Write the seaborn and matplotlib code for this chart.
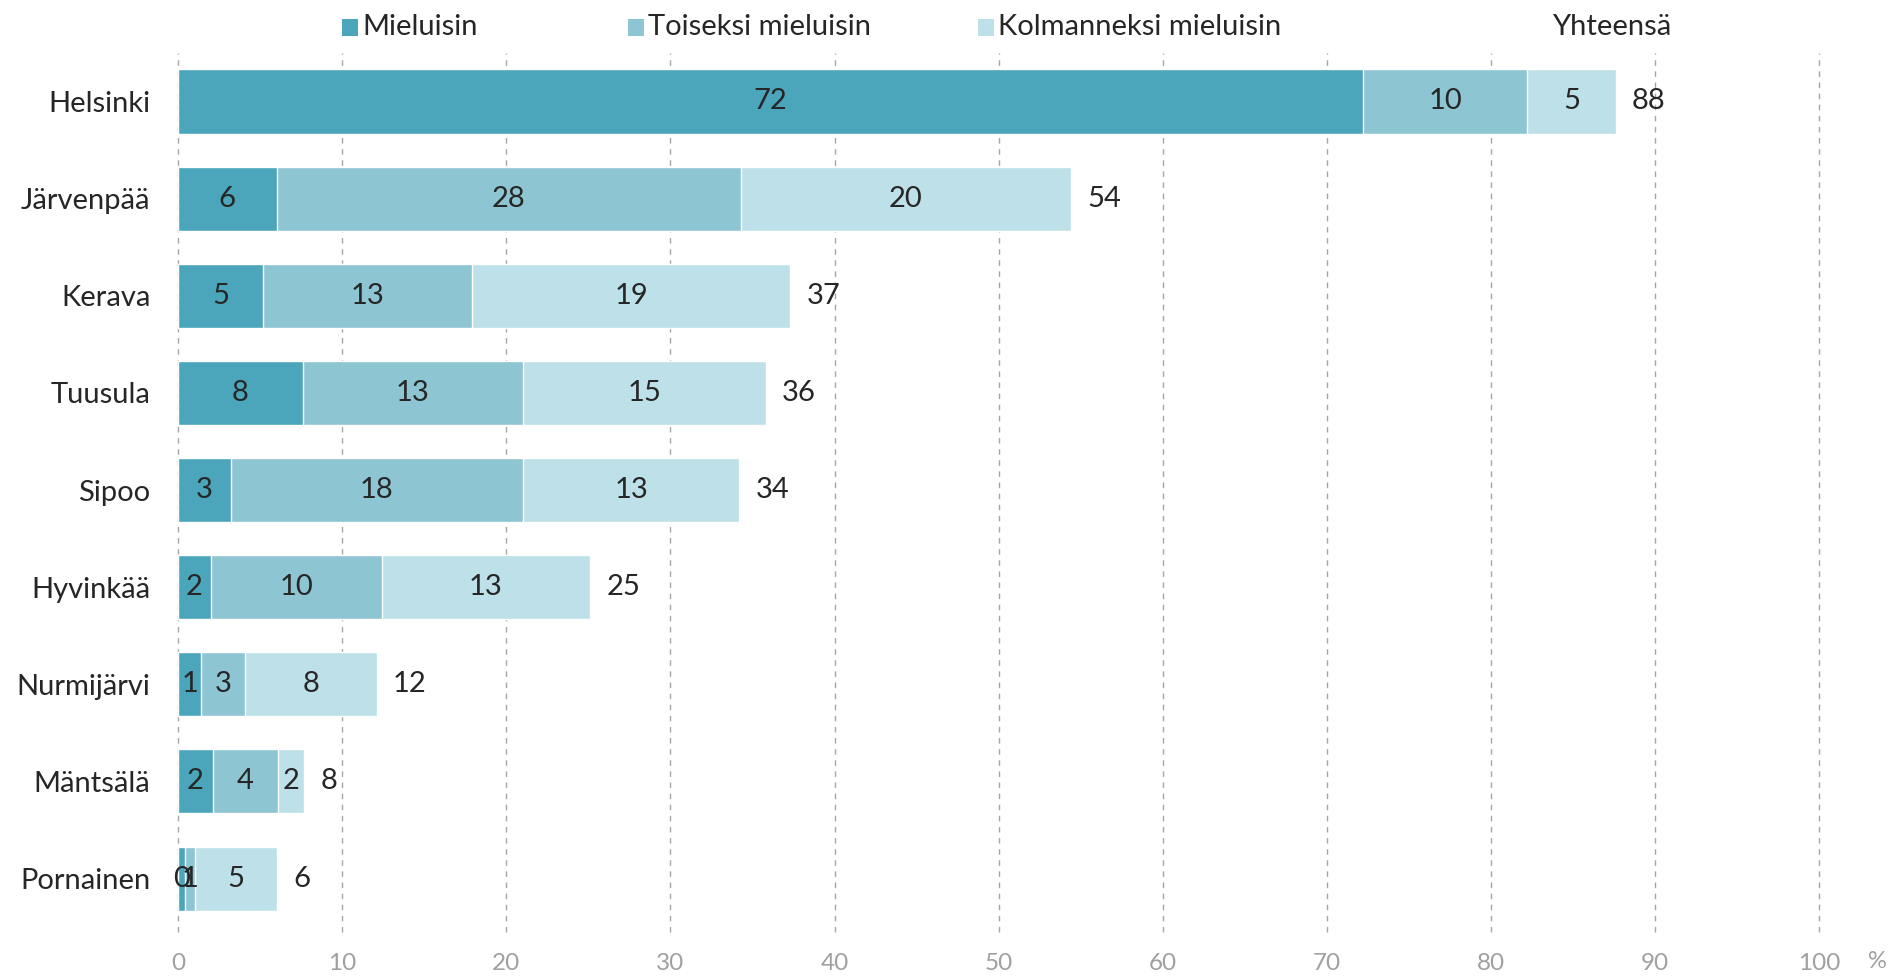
import numpy as np
import pandas as pd
import matplotlib
matplotlib.use("Agg")
import matplotlib.pyplot as plt
import seaborn as sns
from matplotlib.patches import Rectangle

# Data (%)
kunnat = ["Helsinki", "Järvenpää", "Kerava", "Tuusula", "Sipoo",
          "Hyvinkää", "Nurmijärvi", "Mäntsälä", "Pornainen"]
mieluisin = [72.2, 6.0, 5.2, 7.6, 3.2, 2.0, 1.4, 2.1, 0.4]
toiseksi = [10.0, 28.3, 12.7, 13.4, 17.8, 10.4, 2.7, 4.0, 0.6]
kolmanneksi = [5.4, 20.1, 19.4, 14.8, 13.2, 12.7, 8.0, 1.6, 5.0]
sarjat = ["Mieluisin", "Toiseksi mieluisin", "Kolmanneksi mieluisin"]
varit = ["#4BA5BB", "#8EC5D3", "#BDE0E9"]
xticks = list(range(0, 101, 10))

df = pd.DataFrame({"Kunta": kunnat, "Mieluisin": mieluisin,
                   "Toiseksi mieluisin": toiseksi,
                   "Kolmanneksi mieluisin": kolmanneksi})
df["c1"] = df["Mieluisin"]
df["c2"] = df["c1"] + df["Toiseksi mieluisin"]
df["c3"] = df["c2"] + df["Kolmanneksi mieluisin"]

sns.set_style("white")
plt.rcParams["font.family"] = ["Lato", "DejaVu Sans"]

fig = plt.figure(figsize=(18.95, 9.8), dpi=100)
ax = fig.add_axes([0.094, 0.049, 0.866, 0.897])

# pinotut palkit: kumulatiiviset summat, pisin ensin
for col, vari in zip(["c3", "c2", "c1"], varit[::-1]):
    sns.barplot(data=df, x=col, y="Kunta", orient="h", color=vari,
                width=0.66, edgecolor="white", linewidth=1, ax=ax,
                saturation=1, zorder=3)

# arvot palkkien sisään ja yhteensä-arvo perään
for i, row in df.iterrows():
    alku = 0
    for s in sarjat:
        v = row[s]
        ax.text(alku + v / 2, i, f"{v:.0f}", ha="center", va="center",
                fontsize=21, color="#262626", zorder=5)
        alku += v
    ax.text(row["c3"] + 1.0, i, f"{row['c3']:.0f}", ha="left", va="center",
            fontsize=21, color="#262626", zorder=5)

ax.set_xlim(0, 100)
ax.set_ylim(8.55, -0.5)
ax.set_xticks(xticks)
ax.set_xticklabels([str(t) for t in xticks])
ax.set_xlabel("")
ax.set_ylabel("")
for t in xticks:
    ax.axvline(t, color="#a6a6a6", linestyle=(0, (4, 4)), linewidth=1,
               zorder=1, clip_on=False)
ax.tick_params(axis="x", length=0, pad=15, labelsize=17.5, labelcolor="#a0a0a0")
ax.tick_params(axis="y", length=0, pad=20, labelsize=21, labelcolor="#262626")
sns.despine(ax=ax, left=True, bottom=True)

fig.text(0.9905, 0.019, "%", ha="center", va="center", fontsize=17, color="#a0a0a0")

# selite ylös
leg_x = [0.1805, 0.3315, 0.516]
leg_y = 0.9725
for xx, s, vari in zip(leg_x, sarjat, varit):
    fig.add_artist(Rectangle((xx, leg_y - 0.009), 0.0085, 0.0175,
                             transform=fig.transFigure, facecolor=vari,
                             edgecolor="none"))
    fig.text(xx + 0.0105, leg_y, s, ha="left", va="center", fontsize=21,
             color="#262626")
fig.text(0.819, leg_y, "Yhteensä", ha="left", va="center", fontsize=21,
         color="#262626")

fig.savefig("out.png", dpi=100)
